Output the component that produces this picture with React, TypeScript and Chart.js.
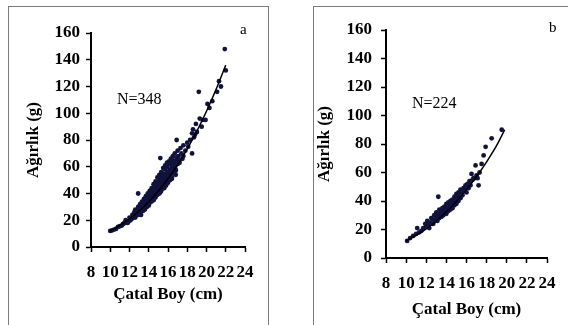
import React, { useEffect, useRef } from "react";
import { Chart, registerables } from "chart.js";

Chart.register(...registerables);

// ---- Data ----
const xTicks = [8, 10, 12, 14, 16, 18, 20, 22, 24];
const yTicks = [0, 20, 40, 60, 80, 100, 120, 140, 160];

const aLength = [
  10.0, 10.2, 10.4, 10.6, 10.8, 11.0, 11.2, 11.4, 11.5, 11.6, 11.8, 11.9, 12.0, 12.1, 12.2, 12.3, 12.4, 12.5, 12.5, 12.6,
  12.7, 12.8, 12.9, 12.9, 13.0, 13.0, 13.1, 13.2, 13.2, 13.3, 13.4, 13.4, 13.5, 13.5, 13.6, 13.6, 13.7, 13.7, 13.8, 13.8,
  13.9, 13.9, 14.0, 14.0, 14.1, 14.1, 14.2, 14.2, 14.3, 14.3, 14.4, 14.4, 14.5, 14.5, 14.6, 14.6, 14.7, 14.7, 14.8, 14.8,
  14.9, 14.9, 15.0, 15.0, 15.0, 15.1, 15.1, 15.2, 15.2, 15.2, 15.3, 15.3, 15.4, 15.4, 15.5, 15.5, 15.6, 15.6, 15.7, 15.7,
  15.8, 15.8, 15.9, 15.9, 16.0, 16.0, 16.1, 16.1, 16.2, 16.2, 16.3, 16.3, 16.4, 16.4, 16.5, 16.5, 16.6, 16.6, 16.7, 16.7,
  16.8, 16.8, 16.9, 16.9, 17.0, 17.0, 17.1, 17.2, 17.3, 17.4, 17.5, 17.6, 17.8, 18.0, 18.5, 18.3, 18.5, 18.6, 18.8, 18.9,
  19.0, 19.2, 19.3, 19.6, 19.9, 20.1, 20.3, 21.1, 21.5, 21.9,
  12.6, 12.9, 13.1, 13.3, 13.5, 13.7, 13.9, 14.1, 14.3, 14.5, 14.7, 14.9, 15.1, 15.3, 15.5, 15.7, 15.9, 16.1, 16.3, 16.5,
  13.2, 13.6, 14.0, 14.4, 14.8, 15.2, 15.6, 16.0, 16.4, 16.8, 13.4, 13.8, 14.2, 14.6, 15.0, 15.4, 15.8, 16.2, 16.6, 17.0,
  11.3, 11.7, 12.2, 12.8, 13.0, 13.4, 14.0, 14.6, 15.0, 15.6, 16.2, 16.8, 17.2, 17.6, 18.1, 18.7, 19.5, 20.6, 21.3, 22.0,
];
const aWeight = [
  12, 12.5, 13, 13.5, 15, 15.5, 16, 17.5, 18, 20, 18, 19, 22, 20, 21, 24, 22, 23, 26, 22,
  25, 27, 24, 40, 28, 25, 30, 27, 24, 29, 32, 27, 30, 34, 28, 33, 31, 36, 34, 30,
  37, 32, 35, 31, 38, 33, 36, 40, 34, 38, 42, 36, 39, 35, 44, 38, 41, 37, 46, 40,
  43, 39, 48, 42, 45, 40, 50, 44, 66.5, 47, 52, 42, 46, 55, 49, 44, 53, 47, 58, 50,
  46, 55, 52, 60, 49, 56, 62, 53, 58, 50, 55, 63, 60, 52, 57, 65, 62, 55, 70, 59,
  64, 57, 80, 67, 62, 72, 68, 65, 74, 70, 66, 76, 72, 78, 70, 80, 85, 88, 84, 92,
  86, 116, 96, 95, 95, 107, 104, 116, 120, 148,
  28, 30, 32, 34, 36, 38, 40, 42, 44, 47, 49, 52, 54, 56, 59, 61, 63, 64, 66, 68,
  26, 29, 33, 36, 39, 41, 44, 48, 51, 54, 33, 36, 40, 43, 46, 50, 53, 57, 61, 64,
  17, 19, 21, 24, 29, 31, 36, 41, 44, 48, 52, 58, 63, 68, 75, 82, 90, 109, 124, 132,
];
const aFitLength = [10, 11, 12, 13, 14, 15, 16, 17, 18, 19, 20, 21, 22];
const aFitWeight = [12, 16.1, 21, 26.9, 33.8, 41.8, 51, 61.5, 73.4, 86.7, 101.5, 118, 136];

const bLength = [
  10.1, 10.4, 10.7, 11.0, 11.1, 11.3, 11.5, 11.7, 11.9, 12.0, 12.1, 12.2, 12.4, 12.5, 12.6, 12.7, 12.8, 12.9, 13.0, 13.0,
  13.1, 13.2, 13.2, 13.3, 13.3, 13.4, 13.5, 13.5, 13.6, 13.7, 13.7, 13.8, 13.9, 14.0, 14.0, 14.1, 14.2, 14.2, 14.3, 14.4,
  14.4, 14.5, 14.6, 14.6, 14.7, 14.8, 14.8, 14.9, 15.0, 15.0, 15.1, 15.2, 15.2, 15.3, 15.4, 15.4, 15.5, 15.6, 15.7, 15.8,
  15.9, 16.0, 16.1, 16.2, 16.3, 16.4, 16.5, 16.6, 16.8, 16.9, 17.0, 17.2, 17.3, 17.5, 17.7, 17.9, 18.5, 19.5,
  12.3, 12.7, 13.1, 13.5, 13.9, 14.3, 14.7, 15.1, 15.5, 15.9, 16.3, 16.7, 13.6, 14.0, 14.4, 14.8, 15.2, 15.6, 16.0, 17.1,
];
const bWeight = [
  12, 14, 15.5, 17, 21, 18, 19, 21, 24, 22, 26, 23, 25, 28, 24, 27, 30, 26, 29, 32,
  27, 43, 31, 28, 34, 30, 33, 29, 35, 32, 30, 36, 33, 31, 38, 35, 33, 39, 36, 34,
  40, 37, 41, 35, 39, 43, 37, 40, 45, 38, 42, 46, 40, 44, 48, 42, 46, 44, 49, 47,
  51, 46, 52, 49, 54, 51, 59, 55, 56, 65, 58, 51, 60, 66, 72, 78, 84, 90,
  21, 24, 26, 29, 32, 35, 38, 41, 45, 49, 52, 56, 31, 34, 37, 41, 44, 47, 50, 56,
];
const bFitLength = [10, 11, 12, 13, 14, 15, 16, 17, 18, 19, 19.8];
const bFitWeight = [12, 15.9, 20.5, 26, 32.4, 39.7, 48, 57.2, 67.5, 79, 90];

const FONT = "'Liberation Serif', 'Times New Roman', serif";

type PanelCfg = {
  xs: number[];
  ys: number[];
  fx: number[];
  fy: number[];
  nLabel: string;
  letter: string;
  width: number;
  height: number;
  area: { left: number; right: number; top: number; bottom: number };
  yTitlePad: number;
  xTitlePad: number;
  yTickPad: number;
  nPos: { x: number; y: number };
  letterPos: { x: number; y: number };
};

function Panel(p: PanelCfg) {
  const ref = useRef<HTMLCanvasElement>(null);
  useEffect(() => {
    if (!ref.current) return;
    const textPlugin = {
      id: "panelText",
      afterDraw(chart: any) {
        const ctx = chart.ctx;
        ctx.save();
        ctx.fillStyle = "#000";
        ctx.textBaseline = "middle";
        ctx.textAlign = "left";
        ctx.font = `16px ${FONT}`;
        ctx.fillText(p.nLabel, p.nPos.x, p.nPos.y);
        ctx.font = `15px ${FONT}`;
        ctx.fillText(p.letter, p.letterPos.x, p.letterPos.y);
        ctx.restore();
      },
    };
    const chart = new Chart(ref.current, {
      type: "scatter",
      data: {
        datasets: [
          {
            type: "line",
            data: p.fx.map((x, i) => ({ x, y: p.fy[i] })),
            borderColor: "#000",
            borderWidth: 1.5,
            pointRadius: 0,
            fill: false,
            tension: 0.3,
          } as any,
          {
            data: p.xs.map((x, i) => ({ x, y: p.ys[i] })),
            backgroundColor: "#12123e",
            borderColor: "#12123e",
            pointRadius: 2.4,
            borderWidth: 0,
          },
        ],
      },
      options: {
        animation: false,
        responsive: false,
        events: [],
        layout: {
          padding: {
            top: p.area.top,
            right: p.width - p.area.right,
            left: 0,
            bottom: 0,
          },
        },
        plugins: { legend: { display: false }, tooltip: { enabled: false } },
        scales: {
          x: {
            type: "linear",
            min: 8,
            max: 24,
            afterBuildTicks: (s: any) => {
              s.ticks = xTicks.map((v) => ({ value: v }));
            },
            afterFit: (s: any) => {
              s.height = p.height - p.area.bottom;
            },
            ticks: {
              autoSkip: false,
              maxRotation: 0,
              minRotation: 0,
              padding: 10,
              color: "#000",
              font: { family: FONT, size: 17, weight: "bold" },
            },
            grid: {
              drawOnChartArea: false,
              drawTicks: true,
              tickLength: 5,
              tickWidth: 1.5,
              tickColor: "#000",
            },
            border: { color: "#000", width: 2 },
            title: {
              display: true,
              text: "Çatal Boy (cm)",
              color: "#000",
              font: { family: FONT, size: 17, weight: "bold" },
              padding: { top: 0, bottom: p.xTitlePad },
            },
          },
          y: {
            type: "linear",
            min: 0,
            max: 160,
            afterBuildTicks: (s: any) => {
              s.ticks = yTicks.map((v) => ({ value: v }));
            },
            afterFit: (s: any) => {
              s.width = p.area.left;
            },
            ticks: {
              padding: p.yTickPad,
              color: "#000",
              font: { family: FONT, size: 17, weight: "bold" },
            },
            grid: {
              drawOnChartArea: false,
              drawTicks: true,
              tickLength: 5,
              tickWidth: 1.5,
              tickColor: "#000",
            },
            border: { color: "#000", width: 2 },
            title: {
              display: true,
              text: "Ağırlık (g)",
              color: "#000",
              font: { family: FONT, size: 17, weight: "bold" },
              padding: { top: p.yTitlePad, bottom: 0 },
            },
          },
        },
      } as any,
      plugins: [textPlugin],
    });
    return () => chart.destroy();
  }, []);
  return <canvas ref={ref} width={p.width} height={p.height} style={{ display: "block" }} />;
}

export default function App() {
  return (
    <div
      style={{
        position: "fixed",
        left: 0,
        top: 0,
        width: 568,
        height: 325,
        overflow: "hidden",
        background: "#fff",
      }}
    >
      <div
        style={{
          position: "absolute",
          left: 8,
          top: 6,
          width: 259,
          height: 340,
          border: "1px solid #7a7a7a",
        }}
      >
        <Panel
          xs={aLength}
          ys={aWeight}
          fx={aFitLength}
          fy={aFitWeight}
          nLabel="N=348"
          letter="a"
          width={259}
          height={318}
          area={{ left: 82, right: 236, top: 26, bottom: 240 }}
          yTitlePad={14}
          xTitlePad={20}
          yTickPad={6}
          nPos={{ x: 108, y: 93 }}
          letterPos={{ x: 231, y: 23 }}
        />
      </div>
      <div
        style={{
          position: "absolute",
          left: 313,
          top: 6,
          width: 270,
          height: 340,
          border: "1px solid #7a7a7a",
        }}
      >
        <Panel
          xs={bLength}
          ys={bWeight}
          fx={bFitLength}
          fy={bFitWeight}
          nLabel="N=224"
          letter="b"
          width={254}
          height={318}
          area={{ left: 72, right: 233, top: 23, bottom: 251 }}
          yTitlePad={0}
          xTitlePad={5}
          yTickPad={9}
          nPos={{ x: 98, y: 97 }}
          letterPos={{ x: 235, y: 21 }}
        />
      </div>
    </div>
  );
}
